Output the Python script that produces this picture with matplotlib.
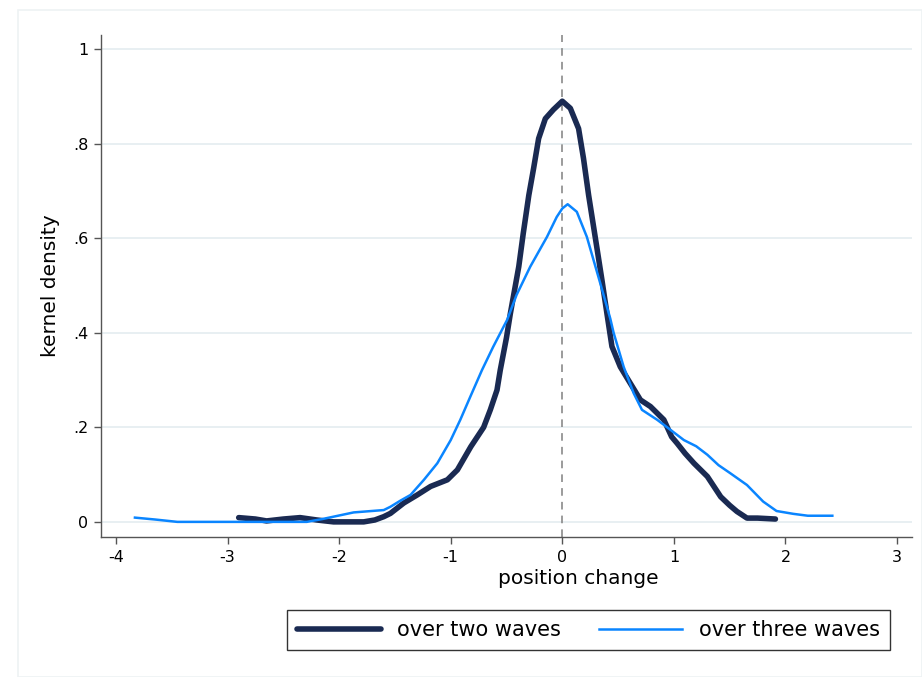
import matplotlib
matplotlib.use("Agg")
import matplotlib.pyplot as plt
from matplotlib.patches import Rectangle

plt.rcParams['font.family'] = ['DejaVu Sans']

# over two waves (dark)
two_x = [-2.9, -2.75, -2.65, -2.5, -2.35, -2.2, -2.05, -1.9, -1.78, -1.68, -1.6, -1.54,
         -1.42, -1.30, -1.18, -1.03, -0.94, -0.82, -0.705, -0.645, -0.585, -0.556, -0.50,
         -0.466, -0.39, -0.35, -0.30, -0.257, -0.212, -0.152, -0.08, 0.0, 0.072, 0.146,
         0.19, 0.236, 0.31, 0.355, 0.40, 0.445, 0.52, 0.61, 0.70, 0.79, 0.91, 0.98, 1.03,
         1.10, 1.18, 1.30, 1.42, 1.50, 1.565, 1.655, 1.75, 1.91]
two_y = [0.009, 0.006, 0.002, 0.006, 0.009, 0.004, 0.0, 0.0, 0.0, 0.004, 0.011, 0.018,
         0.04, 0.057, 0.075, 0.089, 0.11, 0.159, 0.20, 0.237, 0.279, 0.321, 0.39,
         0.44, 0.54, 0.61, 0.691, 0.748, 0.811, 0.853, 0.872, 0.89, 0.875, 0.832,
         0.769, 0.691, 0.58, 0.512, 0.441, 0.371, 0.328, 0.293, 0.258, 0.244, 0.216, 0.18, 0.166,
         0.145, 0.124, 0.096, 0.053, 0.035, 0.022, 0.008, 0.008, 0.006]

# over three waves (light)
three_x = [-3.83, -3.65, -3.45, -2.9, -2.29, -2.15, -2.05, -1.87, -1.6, -1.54, -1.45, -1.36,
           -1.24, -1.12, -1.0, -0.914, -0.824, -0.72, -0.62, -0.495, -0.41, -0.287, -0.137,
           -0.05, 0.0, 0.048, 0.13, 0.22, 0.34, 0.43, 0.46, 0.55, 0.64, 0.714, 0.85, 0.94,
           1.09, 1.20, 1.30, 1.40, 1.505, 1.655, 1.80, 1.92, 2.07, 2.2, 2.42]
three_y = [0.009, 0.005, 0.0, 0.0, 0.0, 0.006, 0.011, 0.02, 0.025, 0.032, 0.045, 0.057,
           0.089, 0.124, 0.173, 0.216, 0.265, 0.321, 0.37, 0.427, 0.48, 0.54, 0.603,
           0.645, 0.663, 0.672, 0.656, 0.603, 0.505, 0.43, 0.40, 0.328, 0.272, 0.237, 0.216, 0.20,
           0.173, 0.16, 0.142, 0.12, 0.103, 0.078, 0.043, 0.023, 0.017, 0.013, 0.013]

xticks = [-4, -3, -2, -1, 0, 1, 2, 3]
yticks = [0, 0.2, 0.4, 0.6, 0.8, 1.0]
ytick_labels = ['0', '.2', '.4', '.6', '.8', '1']
labels = ['over two waves', 'over three waves']

W, H = 922, 677
fig = plt.figure(figsize=(W / 100, H / 100), dpi=100)
fig.patch.set_facecolor('white')
# outer light frame
fig.patches.append(Rectangle((18 / W, 0.0), 1 - 18 / W, 1 - 10 / H, transform=fig.transFigure,
                             fill=False, edgecolor='#eef2f4', linewidth=1.2))

ax = fig.add_axes([101 / W, 1 - 537 / H, (912 - 101) / W, (537 - 35) / H])
ax.set_xlim(-4.134, 3.134)
ax.set_ylim(-0.032, 1.03)

for yv in yticks:
    ax.axhline(yv, color='#e6eef1', linewidth=1.3, zorder=0)
ax.axvline(0, color='#808080', linestyle=(0, (5, 4)), linewidth=1.1, zorder=1)

ax.plot(two_x, two_y, color='#1a2a52', linewidth=4.0, solid_capstyle='round',
        solid_joinstyle='round', label=labels[0], zorder=3)
ax.plot(three_x, three_y, color='#0a85ff', linewidth=1.8, solid_joinstyle='round',
        label=labels[1], zorder=4)

for s in ['top', 'right']:
    ax.spines[s].set_visible(False)
for s in ['left', 'bottom']:
    ax.spines[s].set_color('#555555')
    ax.spines[s].set_linewidth(1.0)

ax.set_xticks(xticks)
ax.set_xticklabels([str(v) for v in xticks])
ax.set_yticks(yticks)
ax.set_yticklabels(ytick_labels)
ax.tick_params(axis='both', direction='out', length=5, width=1, color='#555555',
               labelsize=11.5, labelcolor='black', pad=4)

ax.set_xlabel('position change', fontsize=14.5, labelpad=2)
ax.xaxis.set_label_coords(0.588, -0.063)
ax.set_ylabel('kernel density', fontsize=14.5, labelpad=8)
ax.yaxis.set_label_coords(-0.051, 0.5)

leg = fig.legend(loc='center', bbox_to_anchor=(588.5 / W, 1 - 630 / H), ncol=2,
                 fontsize=15, frameon=True, fancybox=False, edgecolor='black',
                 handlelength=4.0, handletextpad=0.8, columnspacing=1.8,
                 borderpad=0.5)
leg.get_frame().set_linewidth(1.0)

fig.savefig('out.png', dpi=100, facecolor='white')
